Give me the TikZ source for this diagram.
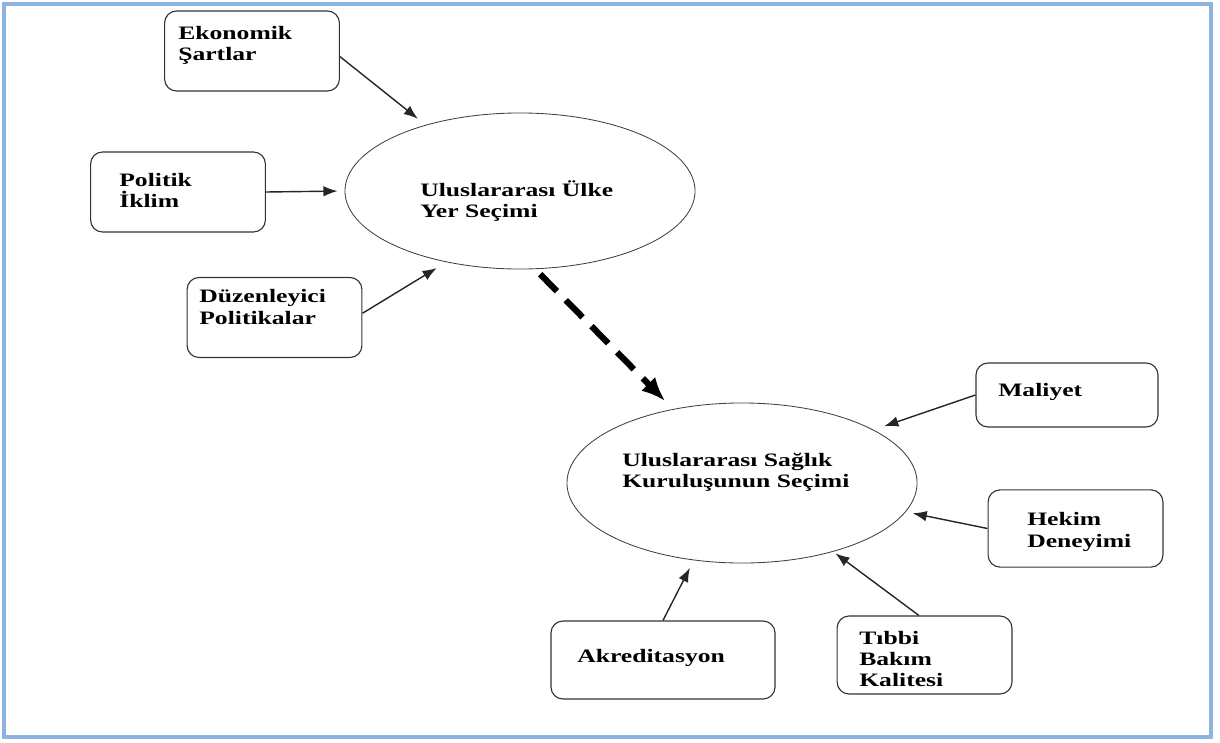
\documentclass[tikz,border=0pt]{standalone}
\usepackage{fontspec}
\setmainfont[FakeStretch=1.35]{Liberation Serif}
\usepackage{tikz}
\usetikzlibrary{arrows.meta,shapes.geometric}
\definecolor{frameblue}{RGB}{141,179,226}
\begin{document}
\begin{tikzpicture}[x=0.025cm,y=-0.025cm,
  box/.style={draw=black!80,line width=0.8pt,rounded corners=0.3cm,minimum width=4.37cm,minimum height=2cm,inner sep=0pt},
  elli/.style={ellipse,draw=black!75,line width=0.6pt,minimum width=8.75cm,inner sep=0pt},
  txt/.style={anchor=west,align=left,inner sep=0pt,font=\fontsize{13.5}{15}\selectfont\bfseries},
  arr/.style={-{Latex[length=10pt,width=7.5pt]},line width=1pt,black!85}]
  \useasboundingbox (0,0) rectangle (1220,742);
  \draw[frameblue,line width=2.2pt] (4,4) rectangle (1211,737);
  \node[elli,minimum height=3.9cm] (ulke) at (520,191) {};
  \node[elli,minimum height=4cm] (saglik) at (742,483) {};
  \node[txt] (ulket) at (420,201) {Uluslararası Ülke\\Yer Seçimi};
  \node[txt] (saglikt) at (622,472) {Uluslararası Sağlık\\Kuruluşunun Seçimi};
  \node[box] (ekon) at (252,51) {};
  \node[txt] (ekont) at (178,45) {Ekonomik\\Şartlar};
  \node[box] (pol) at (178,192) {};
  \node[txt] (polt) at (119,190) {Politik\\İklim};
  \node[box] (duz) at (274.5,317.5) {};
  \node[txt] (duzt) at (199,307) {Düzenleyici\\Politikalar};
  \node[box,minimum width=4.55cm,minimum height=1.6cm] (mal) at (1067,395) {};
  \node[txt] (malt) at (998,392) {Maliyet};
  \node[box,minimum height=1.93cm] (hek) at (1075.5,528.5) {};
  \node[txt] (hekt) at (1027,532) {Hekim\\Deneyimi};
  \node[box,minimum width=5.6cm,minimum height=1.95cm] (akr) at (663,660) {};
  \node[txt] (akrt) at (577,658) {Akreditasyon};
  \node[box,minimum height=1.95cm] (tib) at (924.5,655) {};
  \node[txt] (tibt) at (859,659) {Tıbbi\\Bakım\\Kalitesi};
  \draw[arr,shorten >=7pt] ([yshift=-4pt]ekon.east) -- (ulke.145);
  \draw[arr,shorten >=5pt] (pol.east) -- (ulke.west);
  \draw[arr,shorten >=8pt] ([yshift=3pt]duz.east) -- (ulke.224);
  \draw[arr,shorten >=8pt] (mal.west) -- (saglik.22);
  \draw[arr,shorten >=5pt] (hek.west) -- (saglik.350);
  \draw[arr,shorten >=2pt] ([xshift=-4pt]tib.north) -- (saglik.323);
  \draw[arr,shorten >=6pt] (akr.north) -- (saglik.238);
  \draw[-{Latex[length=17pt,width=14pt]},line width=4.4pt,dash pattern=on 17pt off 9pt,shorten <=5pt,shorten >=8pt] (ulke.281) -- (saglik.133);
\end{tikzpicture}
\end{document}
